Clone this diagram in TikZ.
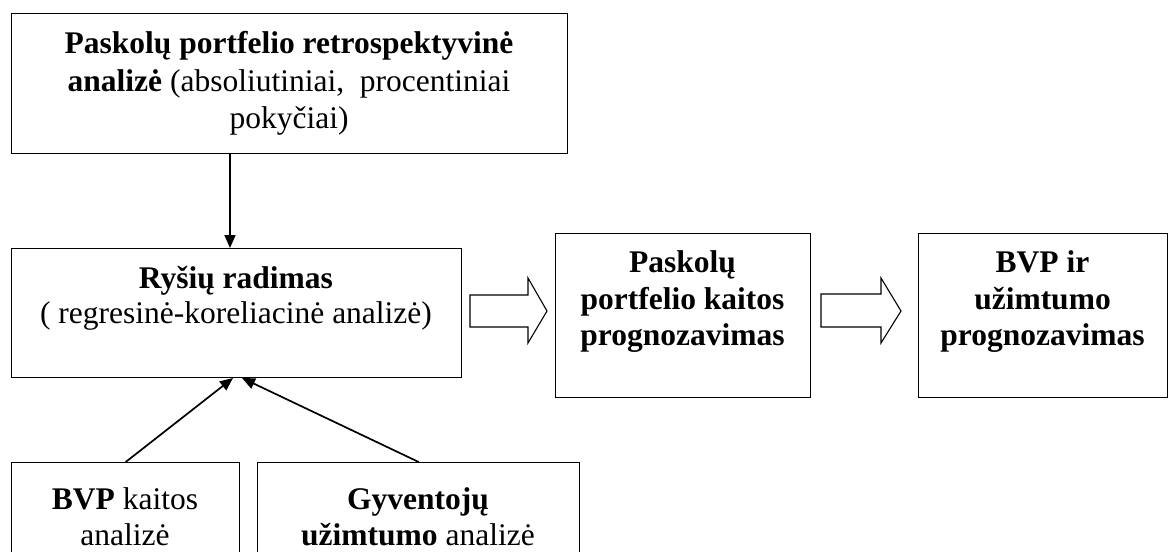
\documentclass[tikz,border=0pt]{standalone}
\usepackage{fontspec}
\setmainfont{Liberation Serif}
\usetikzlibrary{arrows.meta,calc}
\begin{document}
\begin{tikzpicture}[x=1pt,y=-1pt,
  box/.style={draw,line width=1.4pt,inner sep=0pt,anchor=north west},
  txt/.style={align=center,inner sep=0pt,anchor=north,font=\fontsize{31.5}{36.5}\selectfont},
  conn/.style={line width=1.7pt,-{Triangle[length=13pt,width=11pt]}},
  blockarrow/.style={draw,line width=1.1pt,fill=white,line join=miter}]
\useasboundingbox (0,0) rectangle (1171,552);
\fill[white] (0,0) rectangle (1171,552);
% boxes
\node[box,minimum width=556pt,minimum height=140pt] (top) at (11,13) {};
\node[box,minimum width=450pt,minimum height=129pt] (rys) at (11,248) {};
\node[box,minimum width=255pt,minimum height=164pt] (mid) at (555,233) {};
\node[box,minimum width=249pt,minimum height=164pt] (rgt) at (918,233) {};
\node[box,minimum width=228pt,minimum height=100pt] (bvp) at (11,462) {};
\node[box,minimum width=322pt,minimum height=100pt] (gyv) at (257,462) {};
% texts
\node[txt,font=\fontsize{31.5}{37.5}\selectfont] (ttop) at (289,31.5) {\textbf{Paskolų portfelio retrospektyvinė}\\\textbf{analizė} (absoliutiniai,\ \ procentiniai\\pokyčiai)};
\node[txt,font=\fontsize{31.5}{35}\selectfont] (trys) at (236,266.5) {\textbf{Ryšių radimas}\\( regresinė-koreliacinė analizė)};
\node[txt] (tmid) at (682.5,250.5) {\textbf{Paskolų}\\\textbf{portfelio kaitos}\\\textbf{prognozavimas}};
\node[txt] (trgt) at (1042.5,250.5) {\textbf{BVP ir}\\\textbf{užimtumo}\\\textbf{prognozavimas}};
\node[txt,font=\fontsize{31.5}{36}\selectfont] (tbvp) at (125,487) {\textbf{BVP} kaitos\\analizė};
\node[txt,font=\fontsize{31.5}{36}\selectfont] (tgyv) at (418,487) {\textbf{Gyventojų}\\\textbf{užimtumo} analizė};
% connectors
\coordinate (tipA) at (233,378);
\coordinate (tipB) at (242,378);
\coordinate (arrX) at (230,153);
\draw[conn] (arrX) -- (arrX |- rys.north);
\draw[conn] (bvp.north) -- (tipA);
\draw[conn] (gyv.north) -- (tipB);
% block arrows
\draw[blockarrow] (470,295) -- (528,295) -- (528,278) -- (547,311) -- (528,343) -- (528,327) -- (470,327) -- cycle;
\draw[blockarrow] (821,294) -- (881,294) -- (881,278) -- (901,311) -- (881,343) -- (881,327) -- (821,327) -- cycle;
\end{tikzpicture}
\end{document}
